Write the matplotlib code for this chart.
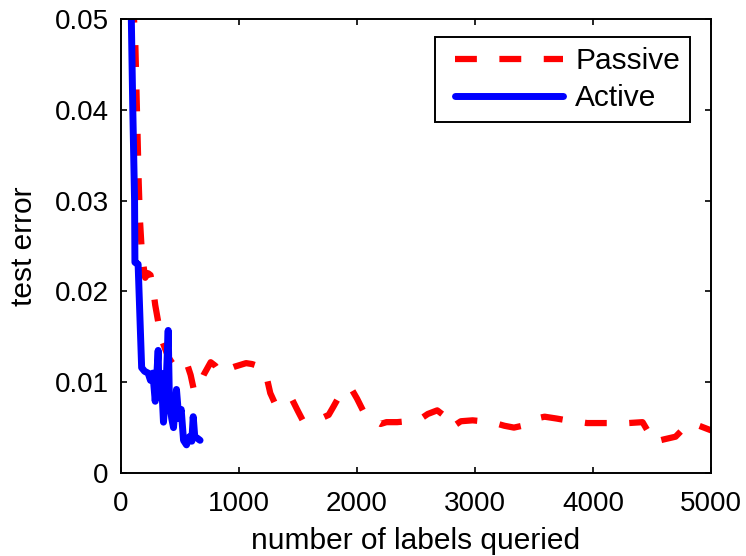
import matplotlib

matplotlib.use("Agg")
import matplotlib.pyplot as plt
from matplotlib.legend_handler import HandlerLine2D

passive_x = [100, 120, 135, 150, 160, 178, 205, 230, 250, 270, 290, 320, 350, 400,
             450, 480, 530, 560, 590, 620, 650, 700, 760, 800, 840, 900, 960, 1010,
             1060, 1110, 1180, 1230, 1265, 1300, 1350, 1400, 1450, 1500, 1540, 1620,
             1710, 1760, 1800, 1860, 1920, 1960, 2000, 2050, 2110, 2160, 2200, 2250,
             2340, 2430, 2520, 2600, 2680, 2740, 2800, 2880, 2980, 3140, 3250, 3330,
             3400, 3480, 3590, 3690, 3780, 3950, 4050, 4150, 4300, 4420, 4470, 4510,
             4600, 4700, 4760, 4830, 4900, 5000, 5030]
passive_y = [0.052, 0.048, 0.040, 0.032, 0.028, 0.024, 0.0215, 0.0220, 0.0218, 0.0205,
             0.0185, 0.0163, 0.0145, 0.0128, 0.0118, 0.0119, 0.0124, 0.0120, 0.0108,
             0.0090, 0.0093, 0.0108, 0.0122, 0.0118, 0.0110, 0.0114, 0.0117, 0.0119,
             0.0121, 0.0120, 0.0117, 0.0108, 0.0088, 0.0078, 0.0073, 0.0076, 0.0081,
             0.0068, 0.0058, 0.0059, 0.0061, 0.0064, 0.0073, 0.0087, 0.0094, 0.0091,
             0.0082, 0.0069, 0.0060, 0.0057, 0.0054, 0.0056, 0.0056, 0.0057, 0.0058,
             0.0065, 0.0069, 0.0063, 0.0050, 0.0057, 0.0058, 0.0056, 0.0052, 0.0050,
             0.0052, 0.0059, 0.0062, 0.0060, 0.0058, 0.0055, 0.0055, 0.0055, 0.0055,
             0.0056, 0.0045, 0.0034, 0.0037, 0.0040, 0.0048, 0.0055, 0.0052, 0.0047,
             0.0046]

active_x = [85, 100, 115, 118, 145, 175, 200, 230, 250, 270, 290, 300, 315, 320, 340,
            360, 380, 400, 410, 430, 445, 470, 490, 510, 530, 555, 580, 600, 612, 625,
            650, 670]
active_y = [0.052, 0.040, 0.030, 0.0232, 0.0230, 0.0116, 0.0112, 0.0110, 0.0102,
            0.0110, 0.0079, 0.0100, 0.0135, 0.0098, 0.0110, 0.0056, 0.0090, 0.0157,
            0.0080, 0.0060, 0.0050, 0.0092, 0.0060, 0.0070, 0.0036, 0.0031, 0.0040,
            0.0035, 0.0062, 0.0040, 0.0038, 0.0036]

x_ticks = [0, 1000, 2000, 3000, 4000, 5000]
y_ticks = [0, 0.01, 0.02, 0.03, 0.04, 0.05]
y_tick_labels = ["0", "0.01", "0.02", "0.03", "0.04", "0.05"]

plt.rcParams["font.family"] = ["Liberation Sans", "DejaVu Sans"]
plt.rcParams["font.size"] = 20

fig = plt.figure(figsize=(7.46, 5.56), dpi=100)
ax = fig.add_axes([121 / 746, 83 / 556, 590 / 746, 454 / 556])

ax.plot(passive_x, passive_y, color="#ff0000", linewidth=4.5, linestyle=(0, (3.5, 3.6)),
        label="Passive", dash_capstyle="butt")
ax.plot(active_x, active_y, color="#0000ff", linewidth=5, label="Active",
        solid_joinstyle="round", solid_capstyle="round")

ax.set_xlim(0, 5000)
ax.set_ylim(0, 0.05)
ax.set_xticks(x_ticks)
ax.set_yticks(y_ticks)
ax.set_yticklabels(y_tick_labels)
ax.tick_params(direction="in", top=True, right=True, length=4, width=1.2, labelsize=20)
ax.tick_params(axis="x", pad=13)
ax.tick_params(axis="y", pad=9)
for s in ax.spines.values():
    s.set_linewidth(1.4)

ax.set_xlabel("number of labels queried", fontsize=21.5, labelpad=7)
ax.set_ylabel("test error", fontsize=21.5, labelpad=12)

leg = ax.legend(loc="upper right", bbox_to_anchor=(0.964, 0.960), borderaxespad=0,
                fancybox=False, edgecolor="black", framealpha=1, handlelength=3.95,
                handletextpad=0.4, labelspacing=0.3, borderpad=0.33, fontsize=21.5,
                handler_map={plt.Line2D: HandlerLine2D(xpad=0.33)})
leg.get_frame().set_linewidth(1.4)

fig.savefig("out.png", dpi=100)
